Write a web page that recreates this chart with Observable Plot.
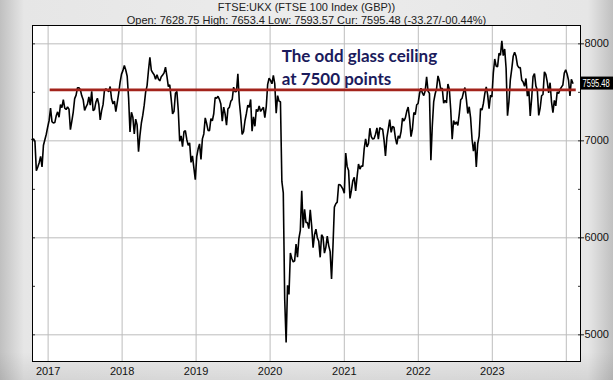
<!DOCTYPE html>
<html><head><meta charset="utf-8">
<script src="https://cdn.jsdelivr.net/npm/d3@7"></script>
<script src="https://cdn.jsdelivr.net/npm/@observablehq/plot@0.6"></script>
<style>
html,body{margin:0;padding:0;}
body{width:613px;height:380px;overflow:hidden;background:
 linear-gradient(to bottom, rgba(0,0,0,0) 0px, rgba(0,0,0,0) 352px, rgba(0,0,0,0.08) 380px),
 linear-gradient(to right, #c0c0c0 0px, #e6e6e6 24px, #ececec 300px, #e6e6e6 588px, #c0c0c0 613px);}
#chart svg{display:block}
</style></head><body><div id="chart"></div>
<script>
// ---- text ----
const title = "FTSE:UKX (FTSE 100 Index (GBP))";
const subtitle = "Open: 7628.75 High: 7653.4 Low: 7593.57 Cur: 7595.48 (-33.27/-00.44%)";
const annotation = ["The odd glass ceiling", "at 7500 points"];
const annotationAt = {date: "2020-02-27", value: 7772};

// ---- axes ----
const xDomain = ["2016-10-16", "2024-03-11"];
const yDomain = [4725, 8189];
const yTicks = [5000, 6000, 7000, 8000];
const yMinorTicks = [5000, 5500, 6000, 6500, 7000, 7500, 8000];
const yearTicks = ["2017-01-01","2018-01-01","2019-01-01","2020-01-01","2021-01-01","2022-01-01","2023-01-01","2024-01-01"];
const yearLabels = ["2017","2018","2019","2020","2021","2022","2023",""];

// ---- ceiling line & current value ----
const ceilingLevel = 7525;
const ceilingSpan = ["2017-01-11", "2024-02-19"];
const currentValue = 7595.48;

// ---- weekly closes (Friday), first Friday of each block ----
const start2016 = "2016-10-14";
const close2016 = [7014,7020,6996,6693,6730,6775,6840,6731,6954,7011,7068,7143];
const start2017 = "2017-01-06";
const close2017 = [7210,7338,7198,7184,7188,7258,7299,7243,7374,7343,7425,7337,7323,7349,7327,7115,7204,7297,7435,7471,7547,7548,7527,7464,7424,7313,7350,7378,7453,7368,7511,7310,7324,7401,7439,7377,7215,7311,7373,7523,7535,7523,7505,7560,7433,7380,7409,7300,7394,7490,7603,7688];
const start2018 = "2018-01-05";
const close2018 = [7724,7778,7730,7666,7443,7092,7294,7244,7070,7224,7164,6888,7057,7184,7265,7368,7502,7567,7725,7860,7730,7701,7681,7634,7682,7637,7618,7661,7679,7701,7760,7667,7559,7577,7432,7277,7304,7490,7510,7318,6996,7050,6940,7094,7105,7014,6953,6980,6778,6845,6721,6600];
const start2019 = "2019-01-04";
const close2019 = [6837,6918,6968,6809,7020,7071,7236,7178,7107,7104,7228,7207,7279,7447,7437,7460,7428,7380,7203,7348,7277,7161,7331,7345,7407,7426,7553,7506,7508,7690,7407,7254,7067,7095,7207,7282,7367,7345,7426,7100,7247,7150,7324,7302,7359,7303,7326,7346,7240,7353,7582,7645];
const start2020 = "2020-01-03";
const close2020 = [7623,7588,7675,7586,7286,7466,7409,7404,6581,6463,5366,4920,5510,5416,5843,5787,5752,5763,5936,5800,5993,6077,6484,6105,6293,6159,6157,6095,6290,6123,5898,6032,6090,6001,5964,5799,6032,6007,5843,5902,6017,5920,5860,5577,5910,6316,6351,6368,6550,6547,6529,6502];
const start2021 = "2021-01-01";
const close2021 = [6461,6873,6736,6695,6407,6489,6589,6624,6483,6631,6761,6709,6741,6737,6916,7020,6938,6970,7130,7044,7018,7023,7069,7134,7017,7136,7123,7122,7008,6844,7032,7123,7218,7087,7148,7138,7029,6964,7051,7027,7095,7234,7204,7237,7304,7348,7224,7044,7122,7292,7270,7372,7385];
const start2022 = "2022-01-07";
const close2022 = [7485,7543,7494,7466,7516,7661,7513,7489,6800,7156,7405,7483,7538,7669,7616,7522,7545,7388,7418,7390,7585,7533,7318,7016,7208,7169,7196,7159,7276,7423,7440,7501,7550,7427,7282,7351,7236,7019,6894,6991,6730,6970,7048,7334,7318,7385,7486,7556,7476,7332,7469,7452];
const start2023 = "2023-01-06";
const close2023 = [7699,7844,7770,7765,7902,7882,8030,7878,7947,7748,7260,7405,7632,7742,7871,7914,7871,7778,7754,7756,7627,7607,7562,7643,7461,7531,7257,7434,7663,7694,7564,7524,7262,7338,7465,7478,7711,7684,7608,7495,7599,7402,7291,7417,7360,7504,7488,7529,7554,7576,7698,7733];
const start2024 = "2024-01-05";
const close2024 = [7689,7625,7462,7635,7595.48];

const blocks = [
  [start2016, close2016],[start2017, close2017],[start2018, close2018],
  [start2019, close2019],[start2020, close2020],[start2021, close2021],
  [start2022, close2022],[start2023, close2023],[start2024, close2024]
];
const data = blocks.flatMap(([s, vals]) =>
  vals.map((v, i) => ({date: d3.utcDay.offset(new Date(s), 7 * i), close: v})));

const yearTickDates = yearTicks.map(d => new Date(d));
const yearLabelOf = new Map(yearTicks.map((d, i) => [d, yearLabels[i]]));

function currentValueTag(index, scales, values, dimensions) {
  const y = scales.y(currentValue);
  const x = dimensions.width - dimensions.marginRight + 1;
  const g = d3.create("svg:g");
  g.append("rect").attr("x", x).attr("y", y - 6).attr("width", dimensions.marginRight - 1).attr("height", 13).attr("fill", "#000");
  g.append("text").attr("transform", `translate(${x + 1.5},${y + 0.5}) scale(0.72,1)`)
    .attr("dy", "0.36em")
    .attr("text-anchor", "start")
    .attr("fill", "#fff").attr("font-size", 10.5)
    .attr("font-family", "'Liberation Sans', Arial, sans-serif")
    .text(currentValue.toFixed(2));
  return g.node();
}

const chart = Plot.plot({
  width: 613, height: 380,
  marginLeft: 32, marginRight: 33, marginTop: 25, marginBottom: 19,
  style: {background: "transparent", fontFamily: "'Liberation Sans', Arial, sans-serif", fontSize: "11px", color: "#1a1a1a"},
  x: {type: "utc", domain: xDomain.map(d => new Date(d))},
  y: {domain: yDomain},
  marks: [
    Plot.frame({fill: "white"}),
    Plot.gridX(yearTickDates, {stroke: "#bdbdbd", strokeOpacity: 1}),
    Plot.gridY(yTicks, {stroke: "#bdbdbd", strokeOpacity: 1}),
    Plot.axisY(yMinorTicks, {anchor: "left", tickSize: -3, tickFormat: () => "", label: null, stroke: "#333"}),
    Plot.axisY(yMinorTicks, {anchor: "right", tickSize: -3, tickFormat: () => "", label: null, stroke: "#333"}),
    Plot.axisY(yTicks, {anchor: "right", tickSize: 3, tickPadding: 1, tickFormat: d3.format("d"), label: null, fill: "#111"}),
    Plot.axisX(yearTickDates, {anchor: "bottom", tickSize: 0, tickPadding: 6, label: null, fill: "#111",
      tickFormat: d => yearLabelOf.get(d.toISOString().slice(0, 10))}),
    Plot.line(data, {x: "date", y: "close", stroke: "#000", strokeWidth: 1.6, strokeLinejoin: "miter"}),
    Plot.ruleY([ceilingLevel], {x1: new Date(ceilingSpan[0]), x2: new Date(ceilingSpan[1]), stroke: "#a3231b", strokeWidth: 2.6}),
    Plot.text([annotation.join("\n")], {x: new Date(annotationAt.date), y: annotationAt.value,
      textAnchor: "start", lineAnchor: "middle", lineHeight: 1.34, fontSize: 17, fontWeight: "bold",
      fontFamily: "Lato", fill: "#1b1b5c"}),
    Plot.text([title], {frameAnchor: "top", lineAnchor: "middle", dy: -18, fill: "#222"}),
    Plot.text([subtitle], {frameAnchor: "top", lineAnchor: "middle", dy: -5, fill: "#222"}),
    Plot.frame({stroke: "#000"}),
    currentValueTag
  ]
});
document.getElementById("chart").append(chart);
</script>
</body></html>
